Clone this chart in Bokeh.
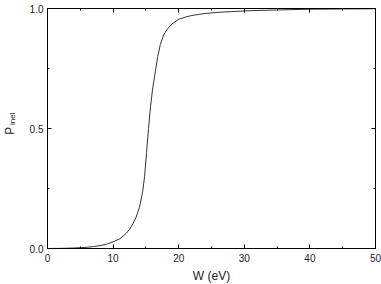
import math
from bokeh.plotting import figure
from bokeh.layouts import row
from bokeh.core.properties import value
from bokeh.models import LinearAxis, SingleIntervalTicker, NumeralTickFormatter, Range1d
from bokeh.embed import file_html
from bokeh.resources import INLINE

# Data
w_ev = [0, 2, 4, 6, 7, 8, 9, 10, 11, 12, 12.5, 13, 13.5, 14, 14.5, 14.8, 15.1, 15.4,
        15.7, 16.0, 16.4, 16.8, 17.2, 17.7, 18.3, 19.0, 20.0, 21.0, 22.0, 24.0, 26.0,
        28.0, 30.0, 35.0, 40.0, 45.0, 50.0]
p_inel = [0.0, 0.0005, 0.002, 0.005, 0.008, 0.012, 0.018, 0.028, 0.040, 0.063, 0.080,
          0.102, 0.130, 0.170, 0.235, 0.30, 0.40, 0.50, 0.59, 0.66, 0.73, 0.80, 0.85,
          0.89, 0.915, 0.936, 0.955, 0.964, 0.971, 0.979, 0.984, 0.987, 0.990, 0.994,
          0.997, 0.998, 0.999]

x_ticks_interval = 10
y_ticks_interval = 0.5
x_title = "W (eV)"
y_title_main = "P"
y_title_sub = "inel"

FONT = "Liberation Sans"

# Narrow strip holding the rotated y-axis title (P with subscript "inel")
LW = 22
pl = figure(width=LW, height=284, x_range=Range1d(0, LW), y_range=Range1d(0, 284),
            output_backend="svg", toolbar_location=None, min_border=0,
            x_axis_location=None, y_axis_location=None)
pl.grid.visible = False
pl.outline_line_color = None
pl.background_fill_color = "white"
pl.border_fill_color = "white"
pl.text(x=[9.5], y=[134], text=[y_title_main], angle=math.pi / 2,
        text_font=value(FONT), text_font_size="12px", text_align="left",
        text_baseline="alphabetic", text_color="#222222")
pl.text(x=[12.0], y=[145.5], text=[y_title_sub], angle=math.pi / 2,
        text_font=value(FONT), text_font_size="8px", text_align="left",
        text_baseline="alphabetic", text_color="#222222")

p = figure(frame_width=328, frame_height=240,
           x_range=Range1d(0, 50), y_range=Range1d(0, 1),
           output_backend="svg", toolbar_location=None,
           min_border_left=47 - LW, min_border_right=6, min_border_top=8, min_border_bottom=36,
           x_axis_location=None, y_axis_location=None)
p.grid.visible = False
p.outline_line_color = "black"
p.outline_line_width = 1
p.background_fill_color = "white"
p.border_fill_color = "white"

def style_axis(ax, ticker, show_labels):
    ax.ticker = ticker
    ax.axis_line_color = "black"
    ax.axis_line_width = 1
    ax.major_tick_in = 4
    ax.major_tick_out = 0
    ax.minor_tick_in = 2
    ax.minor_tick_out = 0
    ax.major_tick_line_color = "black"
    ax.minor_tick_line_color = "black"
    ax.major_label_text_font = FONT
    ax.major_label_text_font_size = "10px"
    ax.major_label_text_color = "#222222" if show_labels else None
    ax.major_label_standoff = 5

xb = LinearAxis()
style_axis(xb, SingleIntervalTicker(interval=x_ticks_interval, num_minor_ticks=2), True)
xb.axis_label = x_title
xb.axis_label_text_font = FONT
xb.axis_label_text_font_size = "12px"
xb.axis_label_text_font_style = "normal"
xb.axis_label_text_color = "#222222"
xb.axis_label_standoff = 4
p.add_layout(xb, "below")
xt = LinearAxis()
style_axis(xt, SingleIntervalTicker(interval=x_ticks_interval, num_minor_ticks=2), False)
p.add_layout(xt, "above")
yl = LinearAxis()
style_axis(yl, SingleIntervalTicker(interval=y_ticks_interval, num_minor_ticks=2), True)
yl.formatter = NumeralTickFormatter(format="0.0")
yl.major_label_standoff = 4
p.add_layout(yl, "left")
yr = LinearAxis()
style_axis(yr, SingleIntervalTicker(interval=y_ticks_interval, num_minor_ticks=2), False)
p.add_layout(yr, "right")

p.line(w_ev, p_inel, line_color="#333333", line_width=1)

layout = row(pl, p, spacing=0)
open("out.html", "w").write(file_html(layout, INLINE))
